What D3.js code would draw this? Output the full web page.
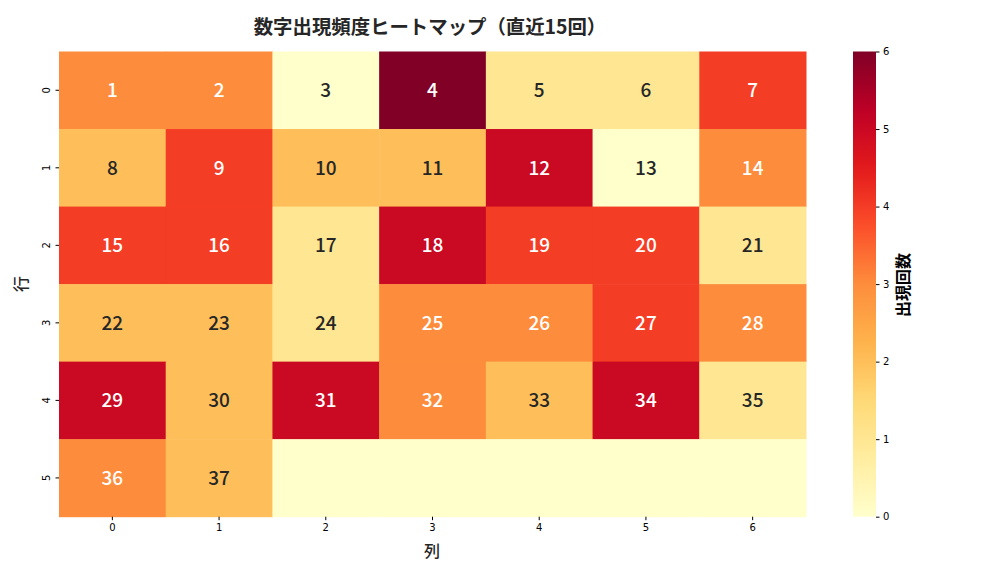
<!DOCTYPE html>
<html><head><meta charset="utf-8">
<script src="https://cdn.jsdelivr.net/npm/d3@7"></script>
<style>body{margin:0;background:#fff}svg{display:block}</style>
</head><body>
<svg id="chart" width="1008" height="576"></svg>
<script>
const rowLabels = ["0","1","2","3","4","5"];
const colLabels = ["0","1","2","3","4","5","6"];
// counts per cell (row-major)
const counts = [
  [3,3,0,6,1,1,4],
  [2,4,2,2,5,0,3],
  [4,4,1,5,4,4,1],
  [2,2,1,3,3,4,3],
  [5,2,5,3,2,5,1],
  [3,2,0,0,0,0,0]
];
// annotation labels (lottery numbers)
const numbers = [
  [1,2,3,4,5,6,7],
  [8,9,10,11,12,13,14],
  [15,16,17,18,19,20,21],
  [22,23,24,25,26,27,28],
  [29,30,31,32,33,34,35],
  [36,37,null,null,null,null,null]
];
const cbTicks = [0,1,2,3,4,5,6];
const titleText = "数字出現頻度ヒートマップ（直近15回）";

const svg = d3.select("#chart");
const L = 59, R = 806, T = 51.5, B = 516.7;
const x = d3.scaleBand().domain(colLabels).range([L, R]);
const y = d3.scaleBand().domain(rowLabels).range([T, B]);
const brewer = ["#ffffcc","#ffeda0","#fed976","#feb24c","#fd8d3c","#fc4e2a","#e31a1c","#bd0026","#800026"];
const color = d3.scaleLinear().domain(d3.range(9).map(i => i * 6 / 8)).range(brewer).interpolate(d3.interpolateRgb);

const cells = [];
counts.forEach((row, r) => row.forEach((v, c) => cells.push({r, c, v, n: numbers[r][c]})));

svg.append("g").selectAll("rect").data(cells).join("rect")
  .attr("x", d => x(colLabels[d.c]))
  .attr("y", d => y(rowLabels[d.r]))
  .attr("width", x.bandwidth() + 0.5)
  .attr("height", y.bandwidth() + 0.5)
  .attr("fill", d => color(d.v));

svg.append("g").selectAll("text").data(cells.filter(d => d.n !== null)).join("text")
  .attr("x", d => x(colLabels[d.c]) + x.bandwidth() / 2)
  .attr("y", d => y(rowLabels[d.r]) + y.bandwidth() / 2 - 1.5)
  .attr("text-anchor", "middle")
  .attr("dominant-baseline", "central")
  .attr("font-family", "'Noto Sans CJK JP','Noto Sans',sans-serif")
  .attr("font-size", 19)
  .attr("font-weight", 500)
  .attr("fill", d => d.v >= 3 ? "#ffffff" : "#262626")
  .text(d => d.n);

// axes
const xAxis = svg.append("g").attr("transform", `translate(0,${B})`)
  .call(d3.axisBottom(x).tickSize(3.5).tickPadding(3.5));
xAxis.select(".domain").remove();
xAxis.selectAll("text").attr("font-family", "'DejaVu Sans',sans-serif").attr("font-size", 10).attr("fill", "#000");

const yAxis = svg.append("g").attr("transform", `translate(${L},0)`)
  .call(d3.axisLeft(y).tickSize(3.5).tickPadding(3.5));
yAxis.select(".domain").remove();
yAxis.selectAll("text")
  .attr("font-family", "'DejaVu Sans',sans-serif").attr("font-size", 10).attr("fill", "#000")
  .attr("text-anchor", "middle").attr("dy", null).attr("x", null)
  .attr("transform", "translate(-13,0) rotate(-90)")
  .attr("dominant-baseline", "central");

// colorbar
const cbX = 853, cbW = 23;
const cy = d3.scaleLinear().domain([0, 6]).range([B, T]);
const defs = svg.append("defs");
const grad = defs.append("linearGradient").attr("id", "cbg").attr("x1", 0).attr("y1", 1).attr("x2", 0).attr("y2", 0);
d3.range(0, 1.0001, 0.02).forEach(t => grad.append("stop").attr("offset", t).attr("stop-color", color(t * 6)));
svg.append("rect").attr("x", cbX).attr("y", T).attr("width", cbW).attr("height", B - T).attr("fill", "url(#cbg)");
const cbAxis = svg.append("g").attr("transform", `translate(${cbX + cbW},0)`)
  .call(d3.axisRight(cy).tickValues(cbTicks).tickFormat(d3.format("d")).tickSize(3.5).tickPadding(3.5));
cbAxis.select(".domain").remove();
cbAxis.selectAll("text").attr("font-family", "'DejaVu Sans',sans-serif").attr("font-size", 10).attr("fill", "#000");

// labels
svg.append("text").attr("x", 430).attr("y", 25).attr("text-anchor", "middle").attr("dominant-baseline", "central")
  .attr("font-family", "'Noto Sans CJK JP',sans-serif").attr("font-weight", "bold").attr("font-size", 19.4)
  .attr("fill", "#262626").text(titleText);
svg.append("text").attr("x", 432).attr("y", 550).attr("text-anchor", "middle").attr("dominant-baseline", "central")
  .attr("font-family", "'Noto Sans CJK JP',sans-serif").attr("font-size", 16).attr("font-weight", 500).attr("fill", "#262626").text("列");
svg.append("text").attr("transform", `translate(20,284) rotate(-90)`).attr("text-anchor", "middle").attr("dominant-baseline", "central")
  .attr("font-family", "'Noto Sans CJK JP',sans-serif").attr("font-size", 16).attr("font-weight", 500).attr("fill", "#262626").text("行");
svg.append("text").attr("transform", `translate(902,285) rotate(-90)`).attr("text-anchor", "middle").attr("dominant-baseline", "central")
  .attr("font-family", "'Noto Sans CJK JP',sans-serif").attr("font-weight", "bold").attr("font-size", 16).attr("fill", "#000").text("出現回数");
</script>
</body></html>
